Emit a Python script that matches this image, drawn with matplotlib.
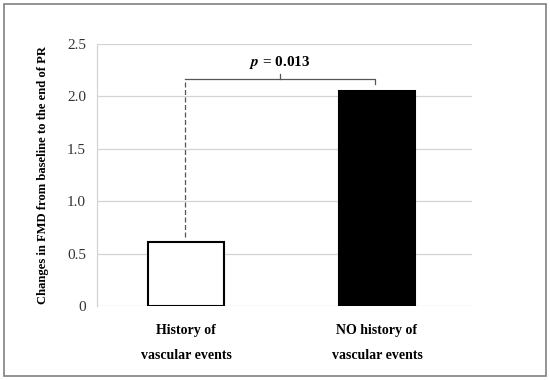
import matplotlib.pyplot as plt
from matplotlib.patches import Rectangle

plt.rcParams['font.family'] = ['Liberation Serif', 'DejaVu Serif']
plt.rcParams['mathtext.fontset'] = 'stix'

# data
groups = ['History of\n\nvascular events', 'NO history of\n\nvascular events']
values = [0.61, 2.05]
colors = ['white', 'black']
yticks = [0, 0.5, 1.0, 1.5, 2.0, 2.5]
ytick_labels = ['0', '0.5', '1.0', '1.5', '2.0', '2.5']
p_text = '$\\mathbfit{p}$ = 0.013'

fig = plt.figure(figsize=(5.5, 3.8), dpi=100)
# outer frame
fig.patches.append(Rectangle((0.007, 0.01), 0.986, 0.98, transform=fig.transFigure,
                             fill=False, edgecolor='#808080', linewidth=1.2))

ax = fig.add_axes([97 / 550, 1 - 306 / 380, 375 / 550, 262 / 380])
x = [0, 1]
ax.bar(x, values, width=0.40, color=colors, edgecolor='black', linewidth=1.5, zorder=3)

ax.set_xlim(-0.466, 1.497)
ax.set_ylim(0, 2.5)
ax.set_yticks(yticks)
ax.set_yticklabels(ytick_labels, fontsize=11, color='#333333')
ax.set_xticks(x)
ax.set_xticklabels(groups, fontsize=10, fontweight='bold', linespacing=0.95)
ax.tick_params(axis='both', length=0, pad=8)
ax.tick_params(axis='x', pad=13)
ax.grid(axis='y', color='#d4d4d4', linewidth=0.9, zorder=0)
for side in ['top', 'right', 'bottom']:
    ax.spines[side].set_visible(False)
ax.spines['left'].set_color('#d4d4d4')
ax.spines['left'].set_linewidth(0.9)

ax.set_ylabel('Changes in FMD from baseline to the end of PR', fontsize=9.1,
              fontweight='bold', labelpad=13)

# significance bracket
bx0, bx1, by = -0.005, 0.99, 2.17
ax.plot([bx0, bx0], [0.66, by], color='#555555', linestyle=(0, (4, 2)), linewidth=0.9, zorder=4)
ax.plot([bx0, bx1, bx1], [by, by, 2.12], color='#555555', linewidth=0.9, zorder=4)
ax.plot([0.49, 0.49], [by, 2.21], color='#555555', linewidth=0.9, zorder=4)
ax.text(0.49, 2.32, p_text, ha='center', va='center', fontsize=11, fontweight='bold')

fig.savefig('out.png', dpi=100)
